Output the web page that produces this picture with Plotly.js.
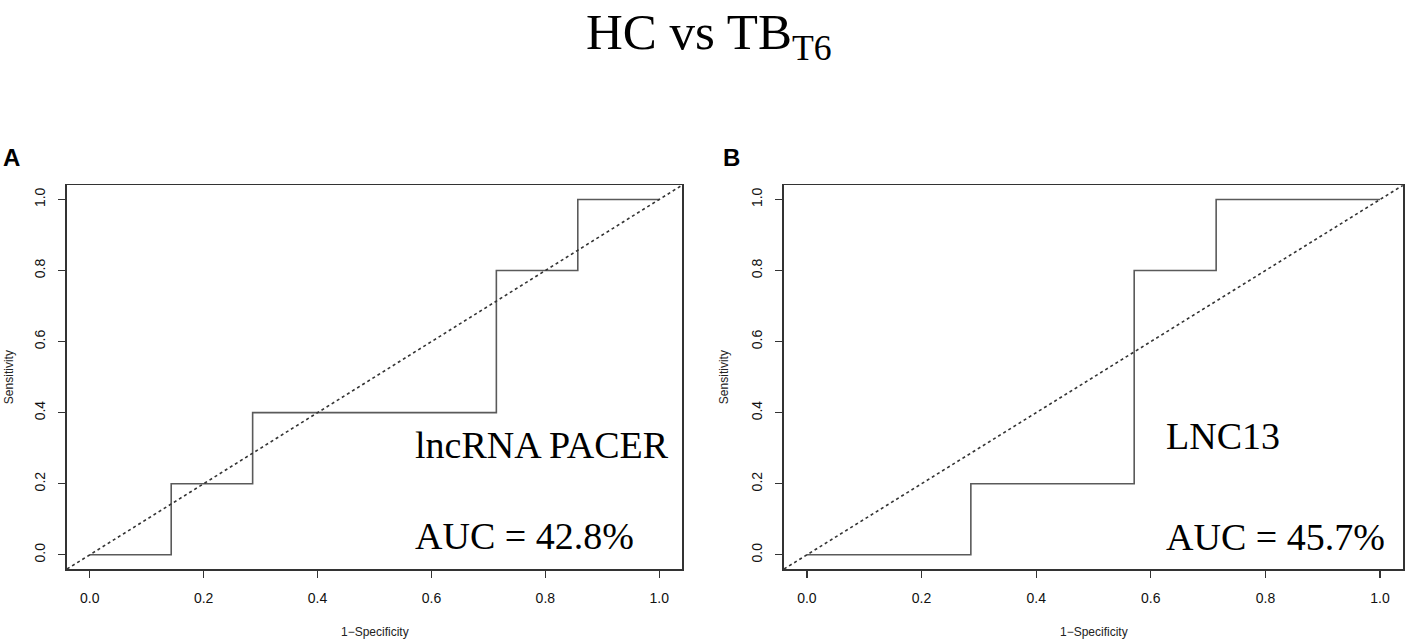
<!DOCTYPE html>
<html>
<head>
<meta charset="utf-8">
<script src="https://cdn.plot.ly/plotly-3.0.1.min.js"></script>
<style>
  html, body { margin: 0; padding: 0; background: #fff; }
  #chart { width: 1405px; height: 641px; }
</style>
</head>
<body>
<div id="chart"></div>
<script>
// ROC steps (1 - specificity, sensitivity)
const pacerFpr = [0, 0.143, 0.286, 0.714, 0.857, 1];
const pacerTpr = [0, 0.2, 0.4, 0.8, 1, 1];
const lnc13Fpr = [0, 0.286, 0.571, 0.714, 1];
const lnc13Tpr = [0, 0.2, 0.8, 1, 1];
const chanceLine = [-0.04, 1.04];
const tickVals = [0, 0.2, 0.4, 0.6, 0.8, 1.0];
const tickText = ['0.0', '0.2', '0.4', '0.6', '0.8', '1.0'];
const panelNames = ['lncRNA PACER', 'LNC13'];
const aucLabels = ['AUC = 42.8%', 'AUC = 45.7%'];

const frameColor = '#333';
const stepColor = '#5a5a5a';

function stepTrace(x, y, xa, ya) {
  return {
    x, y, xaxis: xa, yaxis: ya,
    type: 'scatter', mode: 'lines',
    line: { shape: 'hv', color: stepColor, width: 1.6 },
    hoverinfo: 'skip', showlegend: false
  };
}

function chanceTrace(xa, ya) {
  return {
    x: chanceLine, y: chanceLine, xaxis: xa, yaxis: ya,
    type: 'scatter', mode: 'lines',
    line: { color: '#333', width: 1.6, dash: '3px,3px' },
    hoverinfo: 'skip', showlegend: false
  };
}

const axisBase = {
  range: [-0.04, 1.04],
  tickvals: tickVals,
  ticktext: tickText,
  showgrid: false,
  zeroline: false,
  showline: true,
  mirror: true,
  linecolor: frameColor,
  linewidth: 1.6,
  ticks: 'outside',
  ticklen: 7,
  tickwidth: 1.2,
  tickcolor: frameColor,
  tickfont: { family: 'Liberation Sans, Arial, sans-serif', size: 14, color: '#111' },
  automargin: false,
  fixedrange: true
};

const yBase = { ...axisBase, domain: [0.1123, 0.711], tickangle: -90, ticklabelstandoff: 8 };
const xBase = { ...axisBase, ticklabelstandoff: 9 };

const serif = 'Liberation Serif, Times New Roman, serif';
const sans = 'Liberation Sans, Arial, sans-serif';

function label(text, xref, yref, x, y) {
  return {
    text, xref, yref, x, y, xanchor: 'left', yanchor: 'middle', showarrow: false,
    font: { family: serif, size: 38, color: '#000' }
  };
}

function note(text, xref, yref, x, y, size, extra) {
  return {
    text, xref, yref, x, y, xanchor: 'center', yanchor: 'middle', showarrow: false,
    font: { family: sans, size, color: '#222' }, ...extra
  };
}

const annotations = [
  // main heading
  { text: 'HC vs TB<sub>T6</sub>', xref: 'paper', yref: 'paper', x: 709 / 1405, y: 1 - 2 / 641,
    xanchor: 'center', yanchor: 'top', showarrow: false,
    font: { family: serif, size: 51, color: '#000' } },
  label(panelNames[0], 'x', 'y', 0.568, 0.308),
  label(aucLabels[0], 'x', 'y', 0.568, 0.052),
  label(panelNames[1], 'x2', 'y2', 0.623, 0.333),
  label(aucLabels[1], 'x2', 'y2', 0.623, 0.05),
  note('<b>A</b>', 'paper', 'paper', 0.001, 1 - 158 / 641, 24, { xanchor: 'left', font: { family: sans, size: 24, color: '#000' } }),
  note('<b>B</b>', 'paper', 'paper', 721 / 1405, 1 - 158 / 641, 24, { xanchor: 'left', font: { family: sans, size: 24, color: '#000' } }),
  note('1\u2212Specificity', 'x', 'paper', 0.5, 1 - 632 / 641, 12),
  note('1\u2212Specificity', 'x2', 'paper', 0.5, 1 - 632 / 641, 12),
  note('Sensitivity', 'paper', 'y', 9 / 1405, 0.5, 12, { textangle: -90 }),
  note('Sensitivity', 'paper', 'y2', 724 / 1405, 0.5, 12, { textangle: -90 })
];

const data = [
  stepTrace(pacerFpr, pacerTpr, 'x', 'y'),
  chanceTrace('x', 'y'),
  stepTrace(lnc13Fpr, lnc13Tpr, 'x2', 'y2'),
  chanceTrace('x2', 'y2')
];

const layout = {
  width: 1405,
  height: 641,
  margin: { l: 0, r: 0, t: 0, b: 0 },
  paper_bgcolor: '#fff',
  plot_bgcolor: '#fff',
  showlegend: false,
  xaxis: { ...xBase, domain: [67 / 1405, 682 / 1405], anchor: 'y' },
  yaxis: { ...yBase, anchor: 'x' },
  xaxis2: { ...xBase, domain: [784 / 1405, 1403 / 1405], anchor: 'y2' },
  yaxis2: { ...yBase, anchor: 'x2' },
  annotations
};

Plotly.newPlot('chart', data, layout, { displayModeBar: false, staticPlot: true });
</script>
</body>
</html>
